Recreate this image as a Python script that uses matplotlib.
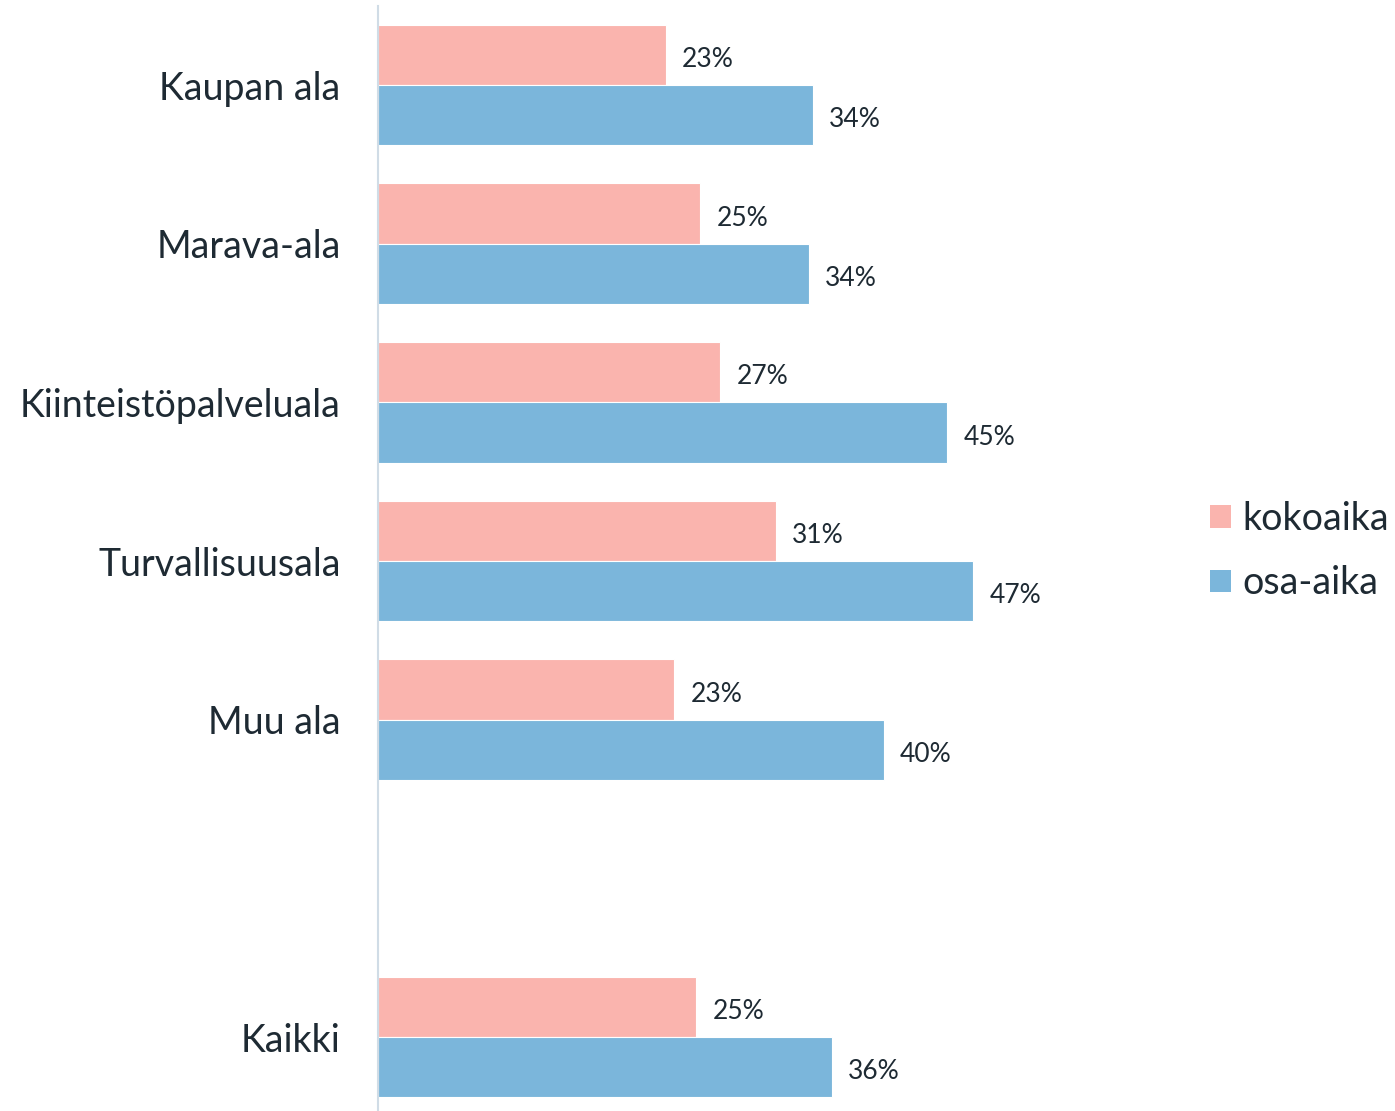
import numpy as np
import matplotlib.pyplot as plt
from matplotlib.patches import Patch

plt.rcParams['font.family'] = ['Lato', 'DejaVu Sans']

# Data
categories = ['Kaupan ala', 'Marava-ala', 'Kiinteistöpalveluala', 'Turvallisuusala', 'Muu ala', '', 'Kaikki']
kokoaika = [22.7, 25.4, 27.0, 31.4, 23.4, np.nan, 25.1]
osa_aika = [34.3, 34.0, 44.9, 47.0, 39.9, np.nan, 35.8]
series_names = ['kokoaika', 'osa-aika']

PINK = '#FAB4AE'
BLUE = '#7BB6DB'
TEXT = '#1E2A33'

fig = plt.figure(figsize=(13.95, 11.11), dpi=100)
ax = fig.add_axes([378 / 1395, 1 - 1110 / 1111, (1180 - 378) / 1395, 1104 / 1111])

y = np.arange(len(categories))
h = 0.38
b1 = ax.barh(y - h / 2, kokoaika, height=h, color=PINK, edgecolor='white', linewidth=0.8)
b2 = ax.barh(y + h / 2, osa_aika, height=h, color=BLUE, edgecolor='white', linewidth=0.8)

for bars, vals in [(b1, kokoaika), (b2, osa_aika)]:
    for bar, v in zip(bars, vals):
        if np.isnan(v):
            continue
        ax.text(v + 1.3, bar.get_y() + bar.get_height() / 2 + 0.03, f'{v:.0f}%',
                va='center', ha='left', fontsize=19, color=TEXT)

ax.set_xlim(0, 802 / 12.67)
ax.set_ylim(6.46, -0.498)
ax.set_yticks(y)
ax.set_yticklabels(categories, fontsize=27, color=TEXT)
ax.tick_params(axis='y', length=0, pad=27)
ax.set_xticks([])

for s in ['top', 'right', 'bottom']:
    ax.spines[s].set_visible(False)
ax.spines['left'].set_color('#D0DCE6')
ax.spines['left'].set_linewidth(1.5)

handles = [Patch(facecolor=PINK), Patch(facecolor=BLUE)]
fig.legend(handles, series_names, loc='center left', bbox_to_anchor=(1210 / 1395, 1 - 551 / 1111),
           frameon=False, fontsize=27, handlelength=0.55, handleheight=0.55,
           handletextpad=0.32, labelspacing=0.75, borderpad=0, borderaxespad=0,
           labelcolor=TEXT)

fig.savefig('out.png', dpi=100)
